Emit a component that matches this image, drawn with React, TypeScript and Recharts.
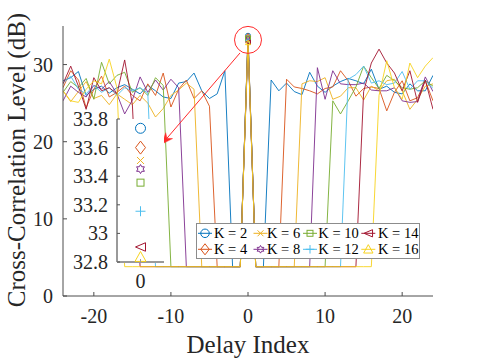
import React from 'react';
import {
  LineChart,
  Line,
  XAxis,
  YAxis,
  ReferenceDot,
  ReferenceLine,
  Legend,
  ScatterChart,
  Scatter,
} from 'recharts';

// ---------------- data ----------------
const delays = [
  -24, -23, -22, -21, -20, -19, -18, -17, -16, -15, -14, -13, -12, -11, -10, -9, -8, -7, -6, -5, -4, -3, -2, -1,
  0, 1, 2, 3, 4, 5, 6, 7, 8, 9, 10, 11, 12, 13, 14, 15, 16, 17, 18, 19, 20, 21, 22, 23, 24,
];
const kValues = [2, 4, 6, 8, 10, 12, 14, 16];
const seriesNames = ['K = 2', 'K = 4', 'K = 6', 'K = 8', 'K = 10', 'K = 12', 'K = 14', 'K = 16'];
const peakValues = [33.735, 33.6, 33.51, 33.45, 33.355, 33.155, 32.905, 32.835];
const floorLevel = 3.8;

// noise for delays -24 .. -(K+1)
const leftK2 = [27.9, 28.3, 29.1, 26.0, 26.8, 27.2, 26.3, 27.0, 27.4, 26.8, 26.2, 27.3, 26.6, 25.8, 25.6, 27.6, 27.8, 28.9, 26.6, 25.6, 26.2, 29.2];
const leftK4 = [27.0, 29.2, 28.0, 24.4, 26.8, 28.5, 25.8, 26.4, 27.2, 26.0, 25.3, 27.5, 26.0, 28.9, 24.5, 26.8, 28.0, 25.6, 26.6, 24.6];
const leftK6 = [26.6, 25.2, 26.5, 27.8, 25.6, 26.0, 24.8, 26.2, 25.5, 24.8, 26.0, 25.0, 23.2, 24.3, 26.0, 26.7, 27.6, 26.8];
const leftK8 = [25.3, 27.2, 26.4, 25.8, 27.3, 26.8, 27.8, 26.2, 23.6, 25.4, 28.4, 26.4, 28.0, 26.7, 28.1, 27.0];
const leftK10 = [26.4, 27.8, 27.0, 28.2, 25.5, 30.3, 27.5, 28.6, 29.0, 26.4, 27.0, 26.0, 28.3, 27.3];
const leftK12 = [27.6, 28.5, 26.8, 26.2, 27.3, 26.4, 27.0, 26.0, 27.0, 26.6, 27.0, 26.3];
const leftK14 = [27.5, 29.8, 27.2, 24.2, 28.3, 26.6, 27.0, 26.2, 30.6, 24.8];
const leftK16 = [26.6, 25.3, 25.1, 26.8, 27.9, 27.5, 30.7, 27.0];

// noise for delays (K+1) .. 24
const rightK2 = [28.0, 26.6, 27.6, 26.5, 26.1, 29.0, 27.2, 26.4, 27.2, 27.8, 28.2, 27.9, 27.5, 29.4, 26.8, 27.2, 26.4, 26.2, 27.5, 26.6, 26.6, 28.6];
const rightK4 = [28.1, 27.1, 26.9, 26.6, 26.2, 26.9, 27.1, 29.2, 27.9, 25.9, 26.9, 27.1, 26.9, 24.0, 26.4, 27.9, 25.3, 25.7, 27.9, 25.3];
const rightK6 = [27.5, 27.9, 27.8, 28.3, 25.5, 25.9, 27.0, 27.0, 25.4, 27.2, 26.6, 27.9, 28.1, 26.6, 24.2, 25.5, 27.2, 27.5];
const rightK8 = [29.6, 25.5, 29.2, 27.5, 27.4, 27.4, 27.6, 26.7, 26.6, 26.6, 27.0, 25.3, 25.1, 25.2, 28.4, 26.5];
const rightK10 = [25.3, 23.6, 25.3, 27.1, 29.8, 28.3, 26.9, 28.6, 27.9, 27.0, 26.8, 27.0, 27.9, 27.2];
const rightK12 = [28.1, 28.7, 29.8, 27.6, 27.9, 27.4, 27.6, 29.1, 26.8, 27.9, 27.9, 26.9];
const rightK14 = [26.5, 30.2, 32.0, 30.2, 28.9, 26.6, 29.2, 25.1, 28.0, 24.2];
const rightK16 = [26.0, 30.5, 27.0, 25.5, 30.2, 28.3, 29.8, 30.9];

const xTicks = [-20, -10, 0, 10, 20];
const yTicks = [0, 10, 20, 30];
const insetYTicks = [32.8, 33, 33.2, 33.4, 33.6, 33.8];
const insetXTicks = [0];

// annotation (data coordinates)
const circleCenter = { x: 0, y: 33.2 };
const arrowSegment = [
  { x: -1.04, y: 31.5 },
  { x: -11.16, y: 19.7 },
];

// ---------------- styles ----------------
const colors = ['#0072BD', '#D95319', '#EDB120', '#7E2F8E', '#77AC30', '#4DBEEE', '#A2142F', '#F7D31E'];
const markerKinds = ['circle', 'diamond', 'x', 'hexagram', 'square', 'plus', 'triangleLeft', 'triangleUp'];
const insetMarkerSizes = [10, 10, 7, 9, 7, 10, 10, 11];
const FONT = 'Liberation Serif';
const fontStyle = { fontFamily: "'Liberation Serif', 'DejaVu Serif', serif" };
const TEXT = '#262626';
const AXIS = '#4d4d4d';
const INSET_AXIS = '#9a9a9a';
const RED = '#FF2A2A';

const leftNoise = [leftK2, leftK4, leftK6, leftK8, leftK10, leftK12, leftK14, leftK16];
const rightNoise = [rightK2, rightK4, rightK6, rightK8, rightK10, rightK12, rightK14, rightK16];

const rows = delays.map((d) => {
  const row: any = { d };
  kValues.forEach((K, i) => {
    let v: number;
    if (d === 0) v = peakValues[i];
    else if (Math.abs(d) <= K) v = floorLevel;
    else if (d < 0) v = leftNoise[i][d + 24];
    else v = rightNoise[i][d - K - 1];
    row['k' + K] = v;
  });
  return row;
});

const insetData = kValues.map((K, i) => [{ x: 0, y: peakValues[i] }]);

// ---------------- markers ----------------
function MarkerGlyph({ kind, cx, cy, size, color }: any) {
  const h = size / 2;
  const common = { fill: 'none', stroke: color, strokeWidth: 1 };
  switch (kind) {
    case 'circle':
      return <circle cx={cx} cy={cy} r={h} {...common} />;
    case 'diamond':
      return (
        <polygon
          points={`${cx},${cy - h * 1.3} ${cx + h},${cy} ${cx},${cy + h * 1.3} ${cx - h},${cy}`}
          {...common}
        />
      );
    case 'x':
      return <path d={`M${cx - h},${cy - h}L${cx + h},${cy + h}M${cx - h},${cy + h}L${cx + h},${cy - h}`} {...common} />;
    case 'hexagram': {
      const pts: string[] = [];
      for (let j = 0; j < 12; j++) {
        const r = j % 2 === 0 ? h : h * 0.577;
        const a = -Math.PI / 2 + (j * Math.PI) / 6;
        pts.push(`${cx + r * Math.cos(a)},${cy + r * Math.sin(a)}`);
      }
      return <polygon points={pts.join(' ')} {...common} />;
    }
    case 'square':
      return <rect x={cx - h} y={cy - h} width={size} height={size} {...common} />;
    case 'plus':
      return <path d={`M${cx - h},${cy}L${cx + h},${cy}M${cx},${cy - h}L${cx},${cy + h}`} {...common} />;
    case 'triangleLeft':
      return <polygon points={`${cx - h},${cy} ${cx + h},${cy - h * 0.85} ${cx + h},${cy + h * 0.85}`} {...common} />;
    case 'triangleUp':
      return <polygon points={`${cx},${cy - h} ${cx + h},${cy + h * 0.8} ${cx - h},${cy + h * 0.8}`} {...common} />;
    default:
      return null;
  }
}

const makePeakDot = (i: number) => (props: any) => {
  const { cx, cy, payload, index } = props;
  if (!payload || payload.d !== 0 || cx == null || cy == null) return <g key={`n-${i}-${index}`} />;
  return (
    <g key={`p-${i}-${index}`}>
      <MarkerGlyph kind={markerKinds[i]} cx={cx} cy={cy} size={5} color={colors[i]} />
    </g>
  );
};

// ---------------- ticks ----------------
const XTick = (props: any) => {
  const { x, y, payload } = props;
  return (
    <g>
      <line x1={x} x2={x} y1={y} y2={y - 4} stroke={AXIS} strokeWidth={1} />
      <text x={x} y={y + 27} textAnchor="middle" fontFamily={FONT} style={fontStyle} fontSize={20} fill={TEXT}>
        {String(payload.value)}
      </text>
    </g>
  );
};

const YTick = (props: any) => {
  const { x, y, payload } = props;
  return (
    <g>
      <line x1={x} x2={x + 4} y1={y} y2={y} stroke={AXIS} strokeWidth={1} />
      <text x={x - 10} y={y + 7} textAnchor="end" fontFamily={FONT} style={fontStyle} fontSize={20} fill={TEXT}>
        {String(payload.value)}
      </text>
    </g>
  );
};

const InsetXTick = (props: any) => {
  const { x, y, payload } = props;
  return (
    <g>
      <line x1={x} x2={x} y1={y} y2={y - 3} stroke={INSET_AXIS} strokeWidth={1} />
      <text x={x} y={y + 25.5} textAnchor="middle" fontFamily={FONT} style={fontStyle} fontSize={20} fill={TEXT}>
        {String(payload.value)}
      </text>
    </g>
  );
};

const InsetYTick = (props: any) => {
  const { x, y, payload } = props;
  const v = Math.round(payload.value * 10) / 10;
  return (
    <g>
      <line x1={x} x2={x + 3} y1={y} y2={y} stroke="#555" strokeWidth={1} />
      <text x={x - 9} y={y + 7} textAnchor="end" fontFamily={FONT} style={fontStyle} fontSize={20} fill={TEXT}>
        {String(v)}
      </text>
    </g>
  );
};

// ---------------- titles ----------------
const XTitle = () => (
  <text x={248} y={353} textAnchor="middle" fontFamily={FONT} style={fontStyle} fontSize={25} fill={TEXT}>
    Delay Index
  </text>
);
const YTitle = () => (
  <text
    x={25}
    y={160}
    transform="rotate(-90 25 160)"
    textAnchor="middle"
    fontFamily={FONT}
    style={fontStyle}
    fontSize={25}
    fill={TEXT}
  >
    Cross-Correlation Level (dB)
  </text>
);

// ---------------- arrow ----------------
const ArrowShape = (props: any) => {
  const { x1, y1, x2, y2 } = props;
  const ang = Math.atan2(y2 - y1, x2 - x1);
  const L = 11;
  const W = 4.5;
  const c = Math.cos(ang);
  const s = Math.sin(ang);
  const bx = x2 - L * c;
  const by = y2 - L * s;
  const nx = x2 - L * 0.7 * c;
  const ny = y2 - L * 0.7 * s;
  const px = -s * W;
  const py = c * W;
  return (
    <g>
      <line x1={x1} y1={y1} x2={nx} y2={ny} stroke={RED} strokeWidth={1} />
      <polygon points={`${x2},${y2} ${bx + px},${by + py} ${nx},${ny} ${bx - px},${by - py}`} fill={RED} stroke={RED} strokeWidth={0.5} />
    </g>
  );
};

// ---------------- legend ----------------
const legendCols = [9, 64.5, 114, 172.3];
const legendTextX = [18, 71, 122.3, 182];
const legendRows = [10.3, 26.3];

const LegendBox = () => (
  <svg width={224} height={37} style={{ display: 'block' }}>
    <rect x={0.5} y={0.5} width={223} height={35} fill="#fff" stroke="#8c8c8c" strokeWidth={1} />
    {seriesNames.map((name, i) => {
      const col = Math.floor(i / 2);
      const row = i % 2;
      const cx = legendCols[col];
      const cy = legendRows[row];
      return (
        <g key={name}>
          <line x1={cx - 7} x2={cx + 7} y1={cy} y2={cy} stroke={colors[i]} strokeWidth={1} />
          <MarkerGlyph kind={markerKinds[i]} cx={cx} cy={cy} size={insetMarkerSizes[i] * 0.85} color={colors[i]} />
          <text x={legendTextX[col]} y={cy + 5} fontFamily={FONT} style={fontStyle} fontSize={14.5} fill="#000">
            {name}
          </text>
        </g>
      );
    })}
  </svg>
);

export default function App() {
  return (
    <div style={{ position: 'absolute', left: 0, top: 0, width: 478, height: 359, background: '#fff', ...fontStyle }}>
      <LineChart width={478} height={359} data={rows} margin={{ top: 26, right: 45, bottom: 33, left: 0 }}>
        <XAxis
          dataKey="d"
          type="number"
          domain={[-24, 24]}
          ticks={xTicks}
          height={30}
          tickSize={0}
          tickMargin={0}
          tick={<XTick />}
          stroke={AXIS}
          allowDataOverflow
          label={<XTitle />}
        />
        <YAxis
          type="number"
          domain={[0, 35]}
          ticks={yTicks}
          width={63}
          tickSize={0}
          tickMargin={0}
          tick={<YTick />}
          stroke={AXIS}
          allowDataOverflow
          label={<YTitle />}
        />
        {kValues.map((K, i) => (
          <Line
            key={K}
            type="linear"
            dataKey={'k' + K}
            name={seriesNames[i]}
            stroke={colors[i]}
            strokeWidth={1}
            strokeOpacity={0.9}
            dot={makePeakDot(i)}
            activeDot={false}
            isAnimationActive={false}
          />
        ))}
        <ReferenceDot x={circleCenter.x} y={circleCenter.y} r={13.5} fill="none" stroke={RED} strokeWidth={1} />
        <ReferenceLine segment={arrowSegment} shape={ArrowShape} stroke={RED} />
        <Legend
          layout="horizontal"
          verticalAlign="middle"
          align="center"
          wrapperStyle={{ left: 196, top: 223, width: 224, height: 37 }}
          content={() => <LegendBox />}
        />
      </LineChart>

      <div style={{ position: 'absolute', left: 117, top: 119, width: 47, height: 143, background: '#fff' }} />
      <div style={{ position: 'absolute', left: 0, top: 0, width: 200, height: 300, pointerEvents: 'none' }}>
        <ScatterChart width={200} height={300} margin={{ top: 119, right: 36, bottom: 8, left: 0 }}>
          <XAxis
            dataKey="x"
            type="number"
            domain={[-1, 1]}
            ticks={insetXTicks}
            height={30}
            tickSize={0}
            tickMargin={0}
            tick={<InsetXTick />}
            stroke={INSET_AXIS}
            strokeWidth={2}
          />
          <YAxis
            dataKey="y"
            type="number"
            domain={[32.8, 33.8]}
            ticks={insetYTicks}
            width={117}
            tickSize={0}
            tickMargin={0}
            tick={<InsetYTick />}
            stroke={INSET_AXIS}
            strokeWidth={2}
            allowDataOverflow
          />
          {kValues.map((K, i) => (
            <Scatter
              key={K}
              data={insetData[i]}
              isAnimationActive={false}
              shape={(p: any) => (
                <MarkerGlyph kind={markerKinds[i]} cx={p.cx} cy={p.cy} size={insetMarkerSizes[i]} color={colors[i]} />
              )}
            />
          ))}
        </ScatterChart>
      </div>
    </div>
  );
}
